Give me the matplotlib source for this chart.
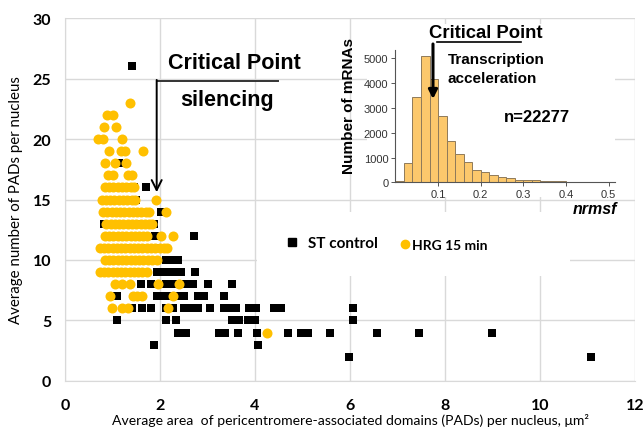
import matplotlib
matplotlib.use("Agg")
import matplotlib.pyplot as plt
from matplotlib.lines import Line2D
from matplotlib.patches import Rectangle

# --- main scatter: rows of integer PAD counts, x = average PAD area per row ---
ST_ROW_Y = [26, 18, 16, 15, 14, 13, 12, 11, 10, 9, 8, 7, 6, 5, 4, 3, 2]
ST_ROW_X = [
    [1.40],
    [1.14],
    [1.33, 1.45, 1.70],
    [1.35, 1.50],
    [1.48, 2.02],
    [0.82, 1.55, 1.88],
    [1.25, 1.90, 2.72],
    [1.30, 1.60, 1.95],
    [1.50, 2.12, 2.26, 2.38],
    [1.50, 1.94, 2.10, 2.27, 2.45, 2.74],
    [1.60, 1.80, 2.12, 2.27, 2.55, 2.69, 3.02, 3.51],
    [1.10, 1.94, 2.08, 2.20, 2.40, 2.51, 2.79, 2.93, 3.35],
    [1.40, 1.62, 1.80, 2.12, 2.27, 2.50, 2.65, 2.79, 3.05, 3.35, 3.47, 3.60,
     3.88, 4.02, 4.40, 4.55, 6.07],
    [1.10, 2.13, 2.34, 3.52, 3.67, 3.85, 4.01, 6.06],
    [2.37, 2.54, 3.24, 3.37, 3.65, 4.04, 4.69, 4.96, 5.11, 5.57, 6.56, 7.46, 8.99],
    [1.87, 4.07],
    [5.98, 11.07],
]

HRG_ROW_Y = [23, 22, 21, 20, 19, 18, 17, 16, 15, 14, 13, 12, 11, 10, 9, 8, 7, 6, 4]
HRG_ROW_X = [
    [1.37],
    [0.88, 1.00],
    [0.83, 1.07],
    [0.69, 0.79, 1.21],
    [0.93, 1.18, 1.27, 1.64],
    [0.85, 1.05, 1.28],
    [0.91, 1.00, 1.32, 1.40],
    [0.84, 0.93, 1.02, 1.11, 1.20, 1.29, 1.38, 1.46],
    [0.77, 0.86, 0.95, 1.04, 1.13, 1.22, 1.31, 1.40, 1.48, 1.91],
    [0.80, 0.89, 0.98, 1.07, 1.16, 1.25, 1.34, 1.43, 1.52, 1.61, 1.70, 1.76, 2.13],
    [0.87, 0.96, 1.05, 1.14, 1.23, 1.32, 1.41, 1.50, 1.59, 1.68, 1.76, 1.83],
    [0.84, 0.93, 1.02, 1.11, 1.20, 1.29, 1.38, 1.47, 1.56, 1.65, 1.73, 2.02, 2.27],
    [0.73, 0.82, 0.91, 1.00, 1.09, 1.18, 1.27, 1.36, 1.45, 1.54, 1.63, 1.72,
     1.81, 1.90, 1.99, 2.08, 2.15],
    [0.84, 0.93, 1.02, 1.11, 1.20, 1.29, 1.38, 1.47, 1.56, 1.65, 1.74, 1.83, 1.94],
    [0.73, 0.82, 0.91, 1.00, 1.09, 1.18, 1.27, 1.36, 1.45, 1.54, 1.63, 1.73],
    [1.05, 1.19, 1.37, 1.96, 2.40],
    [0.95, 1.43, 1.52, 1.62, 2.28],
    [0.98, 1.19, 1.33, 2.17],
    [4.26],
]

# --- inset histogram of nrmsf ---
BIN_LEFT = [0.00, 0.02, 0.04, 0.06, 0.08, 0.10, 0.12, 0.14, 0.16, 0.18, 0.20,
            0.22, 0.24, 0.26, 0.28, 0.30, 0.32, 0.34, 0.36, 0.38, 0.40, 0.42,
            0.44, 0.46, 0.48, 0.50]
BIN_COUNT = [40, 780, 3430, 5080, 4160, 2690, 1670, 1150, 810, 510, 410, 300,
             220, 165, 110, 105, 100, 55, 45, 35, 30, 25, 20, 15, 12, 10]

ORANGE = "#FFC000"
GRID = "#d9d9d9"
LATO = ["Lato", "DejaVu Sans"]
ARIAL = ["Liberation Sans", "DejaVu Sans"]


def flatten(rows_y, rows_x):
    xs, ys = [], []
    for y, row in zip(rows_y, rows_x):
        xs.extend(row)
        ys.extend([y] * len(row))
    return xs, ys


st_x, st_y = flatten(ST_ROW_Y, ST_ROW_X)
hrg_x, hrg_y = flatten(HRG_ROW_Y, HRG_ROW_X)

fig = plt.figure(figsize=(6.43, 4.31), dpi=100)
ax = fig.add_axes([0.1011, 0.1137, 0.8865, 0.8422])

ax.set_xlim(0, 12)
ax.set_ylim(0, 30)
ax.set_xticks(range(0, 13, 2))
ax.set_yticks(range(0, 31, 5))
ax.set_axisbelow(True)
ax.grid(True, color=GRID, linewidth=1)
for side in ("top", "right"):
    ax.spines[side].set_visible(False)
for side in ("left", "bottom"):
    ax.spines[side].set_color(GRID)
ax.tick_params(axis="x", length=0, pad=12)
ax.tick_params(axis="y", length=0, pad=10)
for lab in ax.get_xticklabels() + ax.get_yticklabels():
    lab.set_fontfamily(LATO)
    lab.set_fontweight("bold")
    lab.set_fontsize(11.5)

ax.set_xlabel("Average area  of pericentromere-associated domains (PADs) per nucleus, μm²",
              family=LATO, fontsize=10.1, labelpad=1)
ax.set_ylabel("Average number of PADs per nucleus", family=LATO, fontsize=10.8, labelpad=7)

# white boxes behind the inset and legend hide the grid, as in the source figure
ax.add_patch(Rectangle((0.530, 0.507), 0.435, 0.476, transform=ax.transAxes,
                       facecolor="white", edgecolor="none", zorder=1))
ax.add_patch(Rectangle((0.337, 0.289), 0.549, 0.177, transform=ax.transAxes,
                       facecolor="white", edgecolor="none", zorder=1))

ax.scatter(st_x, st_y, marker="s", s=36, color="black", linewidths=0, zorder=2)
ax.scatter(hrg_x, hrg_y, marker="o", s=52, color=ORANGE, linewidths=0, zorder=3)

# critical point annotation
ax.text(2.17, 26.36, "Critical Point", family=ARIAL, fontweight="bold", fontsize=15.5,
        ha="left", va="center")
ax.text(2.42, 23.3, "silencing", family=ARIAL, fontweight="bold", fontsize=15.5,
        ha="left", va="center")
ax.plot([1.93, 4.48], [24.82, 24.82], color="#333333", lw=1.4, zorder=4)
ax.annotate("", xy=(1.93, 15.6), xytext=(1.93, 24.88),
            arrowprops=dict(arrowstyle="->", lw=1.4, color="black", mutation_scale=18,
                            shrinkA=0, shrinkB=0), zorder=4)

# two single-entry legends so each keeps its own marker-to-text gap
leg_st = ax.legend([Line2D([], [], marker="s", color="black", linestyle="none", markersize=6)],
                   ["ST control"], loc="center left", bbox_to_anchor=(0.371, 0.380),
                   frameon=False, borderpad=0, handlelength=1.0, handletextpad=0.55,
                   prop={"family": LATO, "weight": "bold", "size": 11})
ax.add_artist(leg_st)
ax.legend([Line2D([], [], marker="o", color=ORANGE, linestyle="none", markersize=6)],
          ["HRG 15 min"], loc="center left", bbox_to_anchor=(0.574, 0.374),
          frameon=False, borderpad=0, handlelength=0.8, handletextpad=0.1,
          prop={"family": LATO, "weight": "bold", "size": 10})

# inset histogram
ins = fig.add_axes([0.615, 0.5747, 0.3414, 0.3077])
ins.bar(BIN_LEFT, BIN_COUNT, width=0.02, align="edge", color="#fcc86c",
        edgecolor="#8f7a5a", linewidth=0.7)
ins.set_xlim(0, 0.515)
ins.set_ylim(0, 5350)
ins.set_xticks([0.1, 0.2, 0.3, 0.4, 0.5])
ins.set_xticklabels(["0.1", "0.2", "0.3", "0.4", "0.5"])
ins.set_yticks([0, 1000, 2000, 3000, 4000, 5000])
for side in ("top", "right"):
    ins.spines[side].set_visible(False)
for side in ("left", "bottom"):
    ins.spines[side].set_color("#555555")
    ins.spines[side].set_linewidth(0.8)
ins.tick_params(length=3, width=0.7, color="#555555", pad=2, labelcolor="#333333",
                labelsize=8)
for lab in ins.get_xticklabels() + ins.get_yticklabels():
    lab.set_fontfamily(ARIAL)

ins.text(-0.212, 0.58, "Number of mRNAs", transform=ins.transAxes, rotation=90,
         ha="center", va="center", family=ARIAL, fontweight="bold", fontsize=11)
ins.text(0.909, -0.20, "nrmsf", transform=ins.transAxes, ha="center", va="center",
         family=ARIAL, fontweight="bold", fontstyle="italic", fontsize=11.5)
ins.text(0.153, 1.133, "Critical Point", transform=ins.transAxes, ha="left", va="center",
         family=ARIAL, fontweight="bold", fontsize=13.3)
ins.plot([0.189, 0.572], [1.06, 1.06], transform=ins.transAxes, color="black", lw=1.2,
         clip_on=False)
ins.annotate("", xy=(0.171, 0.628), xytext=(0.171, 1.043), xycoords="axes fraction",
             arrowprops=dict(arrowstyle="-|>", lw=2.2, color="black", mutation_scale=13,
                             shrinkA=0, shrinkB=0))
ins.text(0.239, 0.93, "Transcription", transform=ins.transAxes, ha="left", va="center",
         family=ARIAL, fontweight="bold", fontsize=11)
ins.text(0.239, 0.786, "acceleration", transform=ins.transAxes, ha="left", va="center",
         family=ARIAL, fontweight="bold", fontsize=11)
ins.text(0.494, 0.499, "n=22277", transform=ins.transAxes, ha="left", va="center",
         family=ARIAL, fontweight="bold", fontsize=12)

fig.savefig("out.png", dpi=100)
